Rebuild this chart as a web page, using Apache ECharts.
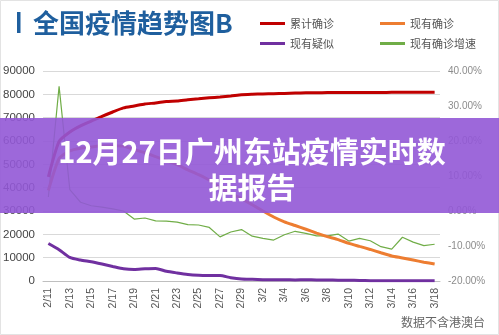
<!DOCTYPE html>
<html>
<head>
<meta charset="utf-8">
<script src="https://cdn.jsdelivr.net/npm/echarts@6/dist/echarts.min.js"></script>
<style>
  html, body { margin: 0; padding: 0; background: #fff; }
  #chart { width: 499px; height: 335px; }
</style>
</head>
<body>
<div id="chart"></div>
<script>
// Dates on the category axis
var dates = ['2/11','2/12','2/13','2/14','2/15','2/16','2/17','2/18','2/19','2/20',
  '2/21','2/22','2/23','2/24','2/25','2/26','2/27','2/28','2/29','3/1',
  '3/2','3/3','3/4','3/5','3/6','3/7','3/8','3/9','3/10','3/11',
  '3/12','3/13','3/14','3/15','3/16','3/17','3/18'];

// 累计确诊
var cumulative = [44653,59804,63851,66492,68500,70548,72436,74185,75002,75891,
  76288,76936,77150,77658,78064,78497,78824,79251,79824,80026,
  80151,80270,80409,80552,80651,80695,80735,80754,80778,80793,
  80813,80824,80844,80860,80881,80894,80928];

// 现有确诊
var current = [38800,52526,55748,56873,57416,57934,58016,57805,56303,54965,
  53284,51606,49824,47672,45604,43258,39919,37414,35329,32652,
  30004,27433,25352,23784,22177,20533,19016,17721,16145,14831,
  13526,12094,10734,9898,8976,8056,7263];

// 现有疑似
var suspected = [16067,13435,10109,8969,8228,7264,6242,5248,4922,5206,
  5365,4148,3434,2824,2491,2358,2308,1418,851,715,
  587,520,522,482,502,458,421,349,285,253,
  147,115,113,134,128,119,105];

// 现有确诊增速 (%)
var growth = [4.0,35.6,6.1,2.5,1.5,1.1,0.6,0.0,-2.3,-2.0,
  -2.8,-2.9,-3.2,-3.9,-4.0,-4.7,-7.4,-6.0,-5.3,-7.2,
  -7.8,-8.3,-6.8,-5.8,-6.4,-7.1,-7.1,-6.6,-8.6,-7.8,
  -8.5,-10.2,-10.9,-7.5,-8.9,-9.9,-9.5];

// Axis tick settings
var leftMin = 0, leftMax = 90000, leftStep = 10000;
var rightMin = -20, rightMax = 40, rightStep = 10;

var seriesNames = ['累计确诊','现有确诊','现有疑似','现有确诊增速'];
var colors = ['#c00000','#ed7d31','#7030a0','#70ad47'];

var chart = echarts.init(document.getElementById('chart'), null, { renderer: 'canvas' });

var legendText = { fontSize: 11, color: '#555', fontFamily: 'Noto Sans CJK SC' };

chart.setOption({
  animation: false,
  backgroundColor: '#ffffff',
  textStyle: { fontFamily: "'Liberation Sans','Noto Sans CJK SC',sans-serif" },
  color: colors,
  grid: { left: 43, right: 59, top: 71, bottom: 54, containLabel: false },
  legend: [
    {
      orient: 'vertical', left: 255, top: 13, itemWidth: 25, itemHeight: 3, itemGap: 9,
      icon: 'rect', textStyle: legendText,
      data: [seriesNames[0], seriesNames[2]]
    },
    {
      orient: 'vertical', left: 375, top: 13, itemWidth: 25, itemHeight: 3, itemGap: 9,
      icon: 'rect', textStyle: legendText,
      data: [seriesNames[1], seriesNames[3]]
    }
  ],
  xAxis: {
    type: 'category',
    data: dates,
    boundaryGap: true,
    axisLine: { lineStyle: { color: '#bfbfbf' } },
    axisTick: { interval: 1, length: 5, lineStyle: { color: '#bfbfbf' } },
    axisLabel: { interval: 1, rotate: 90, margin: 7, fontSize: 10.5, color: '#555' },
    splitLine: { show: false }
  },
  yAxis: [
    {
      type: 'value', min: leftMin, max: leftMax, interval: leftStep,
      axisLine: { show: false }, axisTick: { show: false },
      axisLabel: { margin: 8, fontSize: 11.5, color: '#444',
        formatter: function (v) { return String(v); } },
      splitLine: { lineStyle: { color: '#d9d9d9' } }
    },
    {
      type: 'value', min: rightMin, max: rightMax, interval: rightStep,
      axisLine: { show: false }, axisTick: { show: false },
      axisLabel: {
        margin: 8, fontSize: 10, color: '#8c8c8c',
        formatter: function (v) { return v.toFixed(2) + '%'; }
      },
      splitLine: { show: false }
    }
  ],
  series: [
    { name: seriesNames[0], type: 'line', data: cumulative, yAxisIndex: 0, smooth: 0.2,
      symbol: 'none', lineStyle: { width: 3, color: colors[0] }, z: 3 },
    { name: seriesNames[1], type: 'line', data: current, yAxisIndex: 0, smooth: 0.2,
      symbol: 'none', lineStyle: { width: 3, color: colors[1] }, z: 3 },
    { name: seriesNames[2], type: 'line', data: suspected, yAxisIndex: 0, smooth: 0.2,
      symbol: 'none', lineStyle: { width: 3, color: colors[2] }, z: 3 },
    { name: seriesNames[3], type: 'line', data: growth, yAxisIndex: 1,
      symbol: 'none', lineStyle: { width: 1.2, color: colors[3] }, z: 2 }
  ],
  graphic: [
    // thin frame around the card
    { type: 'rect', shape: { x: 0.5, y: 0.5, width: 498, height: 334 },
      style: { fill: 'none', stroke: '#e3e3e3', lineWidth: 1 }, z: 1 },
    // heading marker and heading
    { type: 'rect', shape: { x: 17, y: 12, width: 3.5, height: 21 },
      style: { fill: '#1f5f9e' }, z: 10 },
    { type: 'text', x: 33, y: 23,
      style: { text: '全国疫情趋势图B', fill: '#1f5f9e', font: 'bold 26px "Noto Sans CJK SC"',
        verticalAlign: 'middle', align: 'left' }, z: 10 },
    // footnote
    { type: 'text', right: 14, top: 316,
      style: { text: '数据不含港澳台', fill: '#666', font: '12px "Noto Sans CJK SC"' }, z: 10 },
    // translucent banner with the headline
    { type: 'rect', shape: { x: 0, y: 118, width: 499, height: 95 },
      style: { fill: 'rgba(146,88,214,0.9)' }, z: 100 },
    { type: 'text', x: 252, y: 170,
      style: { text: '12月27日广州东站疫情实时数\n据报告', fill: '#ffffff',
        font: 'bold 29px "Noto Sans CJK SC"', lineHeight: 36,
        align: 'center', verticalAlign: 'middle' }, z: 101 }
  ]
});
</script>
</body>
</html>
